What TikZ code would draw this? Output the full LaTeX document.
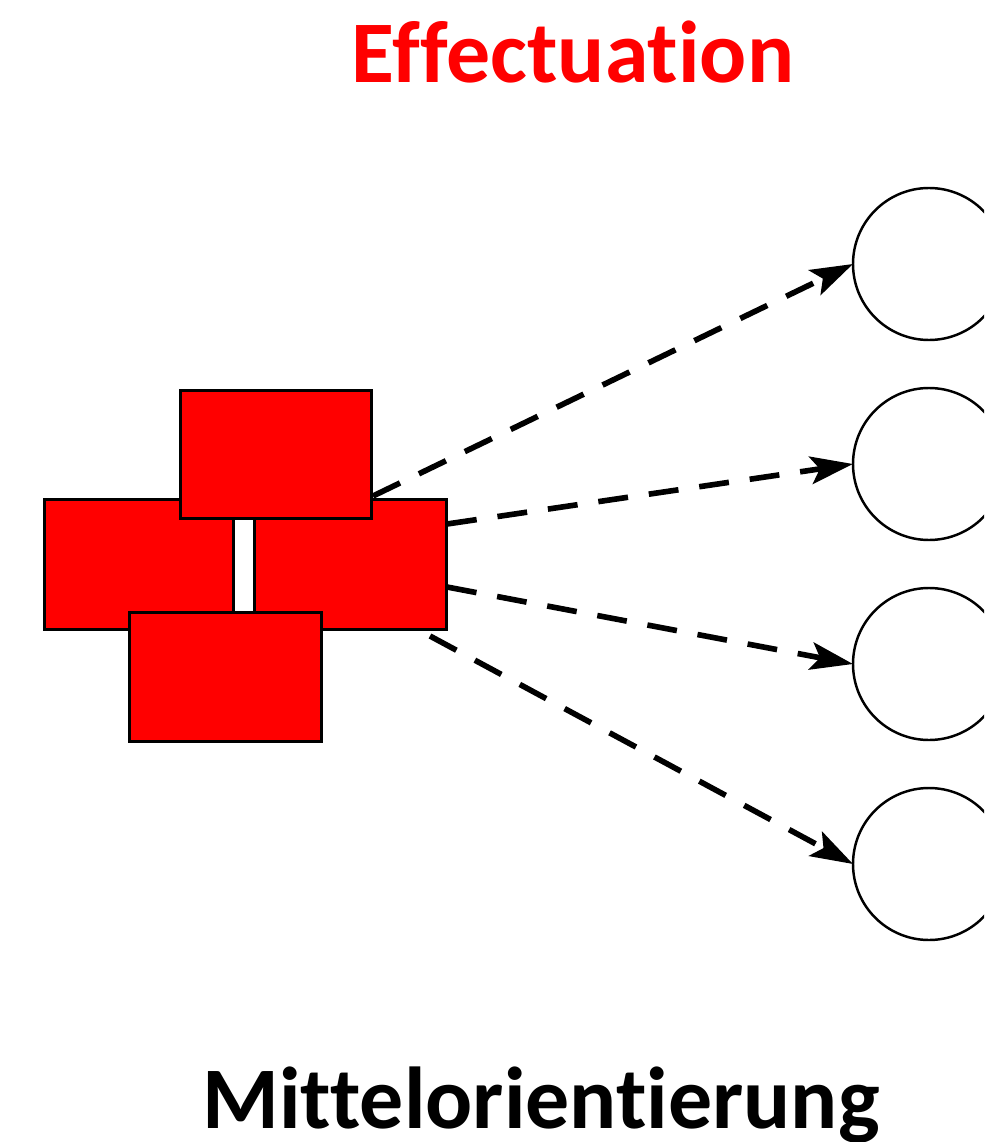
\documentclass[tikz,border=0pt]{standalone}
\usepackage{fontspec}
\setmainfont{Carlito}[Ligatures={NoCommon}]
\usetikzlibrary{arrows.meta}
\definecolor{effred}{RGB}{255,0,0}
\begin{document}
\begin{tikzpicture}[x=0.02cm,y=-0.02cm,
  block/.style={draw=black,fill=effred,line width=1.8pt},
  link/.style={line width=3.2pt,dash pattern=on 0.6cm off 0.42cm,-{Stealth[length=0.85cm,width=0.55cm,inset=0.18cm]}},
  goal/.style={draw=black,line width=1.4pt},
  title/.style={font=\bfseries\fontsize{50}{60}\selectfont,anchor=base,inner sep=0pt}]
\useasboundingbox (0,0) rectangle (984,1142);
\begin{scope}
\clip (0,0) rectangle (984,1142);
\foreach \n/\y in {1/264,2/464,3/664,4/864}{
  \draw[goal] (929,\y) circle[radius=76];
  \coordinate (c\n) at (853,\y);
}
\end{scope}
% blocks
\node[block,minimum width=189*0.02cm,minimum height=130*0.02cm,inner sep=0pt,anchor=north west] (bl) at (43,498) {};
\node[block,minimum width=192*0.02cm,minimum height=130*0.02cm,inner sep=0pt,anchor=north west] (br) at (253,498) {};
\node[block,minimum width=191*0.02cm,minimum height=128*0.02cm,inner sep=0pt,anchor=north west] (bt) at (179,389) {};
\node[block,minimum width=192*0.02cm,minimum height=129*0.02cm,inner sep=0pt,anchor=north west] (bb) at (128,611) {};
% start points
\coordinate (s1) at (373,496);
\coordinate (s2) at (447,524);
\coordinate (s3) at (447,587);
\coordinate (s4) at (430,636);
\draw[link] (s1) -- (c1);
\draw[link] (s2) -- (c2);
\draw[link] (s3) -- (c3);
\draw[link] (s4) -- (c4);
\node[title,text=effred] (t) at (573,83) {Effectuation};
\node[title,text=black] (m) at (541,1128) {Mittelorientierung};
\end{tikzpicture}
\end{document}
